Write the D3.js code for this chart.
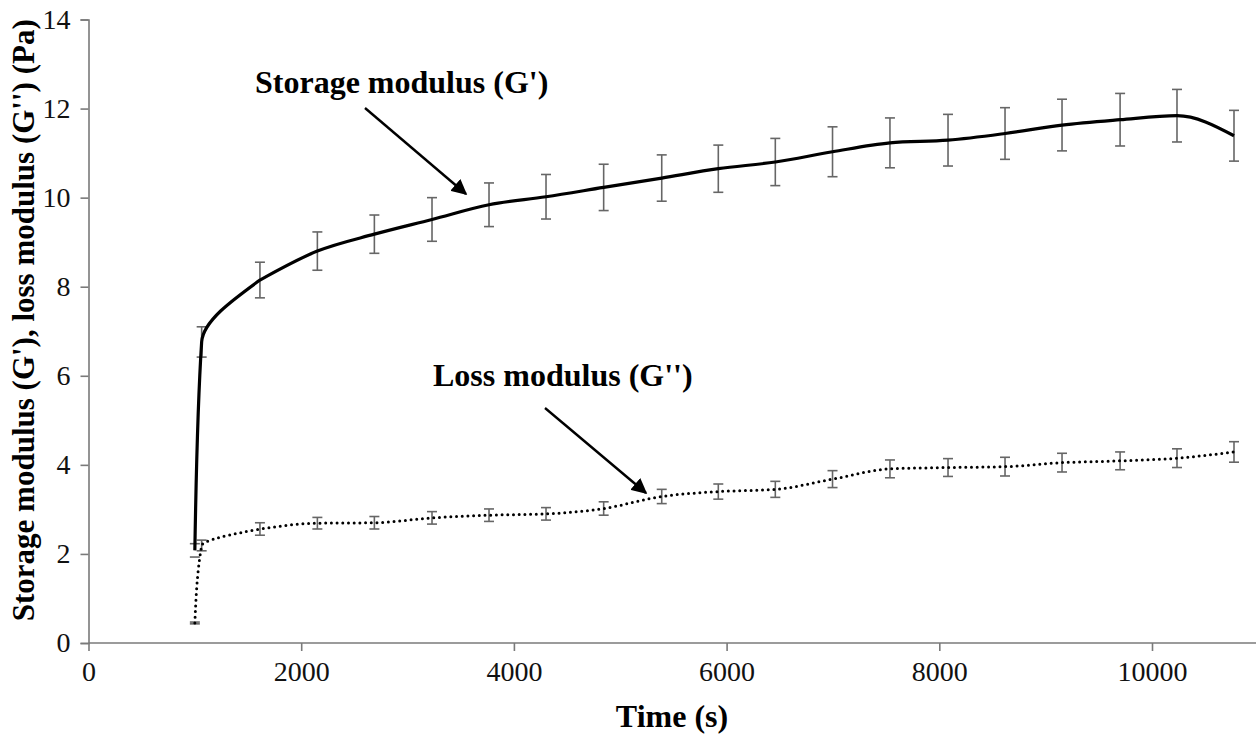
<!DOCTYPE html>
<html>
<head>
<meta charset="utf-8">
<script src="https://cdn.jsdelivr.net/npm/d3@7"></script>
<style>
  html, body { margin: 0; padding: 0; background: #fff; }
  svg { display: block; }
  text { font-family: "Liberation Serif", "Times New Roman", serif; }
</style>
</head>
<body>
<svg id="chart" width="1256" height="736"></svg>
<script>
// ---- data ----
const timeS = [1000, 1064, 1612, 2152, 2688, 3230, 3766, 4302, 4844, 5390, 5922, 6458, 6996, 7536, 8082, 8618, 9154, 9700, 10235, 10771];
const storageG1 = [2.08, 6.76, 8.15, 8.80, 9.18, 9.51, 9.84, 10.02, 10.23, 10.44, 10.65, 10.80, 11.03, 11.23, 11.29, 11.44, 11.63, 11.75, 11.84, 11.39];
const storageErr = [0.15, 0.34, 0.40, 0.43, 0.43, 0.49, 0.49, 0.50, 0.52, 0.52, 0.53, 0.53, 0.56, 0.56, 0.58, 0.58, 0.58, 0.59, 0.59, 0.57];
const lossG2 = [0.45, 2.19, 2.56, 2.69, 2.70, 2.81, 2.87, 2.90, 3.02, 3.29, 3.40, 3.45, 3.68, 3.91, 3.94, 3.96, 4.05, 4.09, 4.15, 4.29];
const lossErr = [0.02, 0.12, 0.14, 0.13, 0.14, 0.14, 0.14, 0.14, 0.15, 0.16, 0.17, 0.18, 0.19, 0.20, 0.20, 0.21, 0.21, 0.20, 0.21, 0.23];
const xTicks = [0, 2000, 4000, 6000, 8000, 10000];
const yTicks = [0, 2, 4, 6, 8, 10, 12, 14];
const xTitle = "Time (s)";
const yTitle = "Storage modulus (G'), loss modulus (G'') (Pa)";
const storageLabel = "Storage modulus (G')";
const lossLabel = "Loss modulus (G'')";

const svg = d3.select("#chart");
const x = d3.scaleLinear().domain([0, 11000]).range([88.5, 88.5 + 11000 * 0.10635]);
const y = d3.scaleLinear().domain([0, 14]).range([643, 19.5]);

const axisColor = "#7a7a7a";

// axes
const gx = svg.append("g").attr("transform", `translate(0,${y(0)})`)
  .call(d3.axisBottom(x).tickValues(xTicks).tickFormat(d3.format("d")).tickSizeOuter(0).tickSize(8).tickPadding(10));
const gy = svg.append("g").attr("transform", `translate(${x(0)},0)`)
  .call(d3.axisLeft(y).tickValues(yTicks).tickFormat(d3.format("d")).tickSizeOuter(0).tickSize(8).tickPadding(10));
[gx, gy].forEach(g => {
  g.select(".domain").attr("stroke", axisColor).attr("stroke-width", 1.6);
  g.selectAll(".tick line").attr("stroke", axisColor).attr("stroke-width", 1.6);
  g.selectAll(".tick text").attr("fill", "#111").style("font-size", "28px")
    .style("font-family", '"Liberation Serif", "Times New Roman", serif');
});
gx.select(".domain").attr("d", `M${x(0)},0H1256`);

// axis titles
svg.append("text").attr("x", 672).attr("y", 727).attr("text-anchor", "middle")
  .attr("font-weight", "bold").style("font-size", "32px").text(xTitle);
svg.append("text").attr("transform", `translate(34,${(y(0) + y(14)) / 2 - 11}) rotate(-90)`)
  .attr("text-anchor", "middle").attr("font-weight", "bold").style("font-size", "31px").text(yTitle);

const storage = timeS.map((t, i) => ({ t, v: storageG1[i], e: storageErr[i] }));
const loss = timeS.map((t, i) => ({ t, v: lossG2[i], e: lossErr[i] }));

// smoothed line: steep start treated with y-monotone interpolation, rest x-monotone
const lineStart = d3.line().x(d => x(d.t)).y(d => y(d.v)).curve(d3.curveMonotoneY);
const lineRest = d3.line().x(d => x(d.t)).y(d => y(d.v)).curve(d3.curveMonotoneX);
function smoothPath(data) {
  const a = lineStart(data.slice(0, 3));
  const b = lineRest(data.slice(2)).replace(/^M[^C]*/, "");
  return a + b;
}

// error bars
function errorBars(data, cls) {
  const g = svg.append("g").attr("class", cls).attr("stroke", "#666").attr("stroke-width", 1.6).attr("fill", "none");
  const cap = 5;
  const sel = g.selectAll("g").data(data.slice(1)).join("g");
  sel.append("line").attr("x1", d => x(d.t)).attr("x2", d => x(d.t)).attr("y1", d => y(d.v - d.e)).attr("y2", d => y(d.v + d.e));
  sel.append("line").attr("x1", d => x(d.t) - cap).attr("x2", d => x(d.t) + cap).attr("y1", d => y(d.v - d.e)).attr("y2", d => y(d.v - d.e));
  sel.append("line").attr("x1", d => x(d.t) - cap).attr("x2", d => x(d.t) + cap).attr("y1", d => y(d.v + d.e)).attr("y2", d => y(d.v + d.e));
  const f = data[0];
  g.append("line").attr("x1", x(f.t) - cap).attr("x2", x(f.t) + cap).attr("y1", y(f.v - f.e)).attr("y2", y(f.v - f.e));
  g.append("line").attr("x1", x(f.t) - cap).attr("x2", x(f.t) + cap).attr("y1", y(f.v + f.e)).attr("y2", y(f.v + f.e));
}
errorBars(storage, "err-storage");
errorBars(loss, "err-loss");

// lines
svg.append("path").attr("d", smoothPath(loss)).attr("fill", "none").attr("stroke", "#000")
  .attr("stroke-width", 3).attr("stroke-linecap", "round").attr("stroke-dasharray", "0 5.7");
svg.append("path").attr("d", smoothPath(storage)).attr("fill", "none").attr("stroke", "#000")
  .attr("stroke-width", 3.2).attr("stroke-linejoin", "round");

// annotations
svg.append("defs").append("marker").attr("id", "arrow").attr("viewBox", "0 0 10 10")
  .attr("refX", 9).attr("refY", 5).attr("markerWidth", 6.5).attr("markerHeight", 6.5)
  .attr("markerUnits", "strokeWidth").attr("orient", "auto")
  .append("path").attr("d", "M0,0L10,5L0,10z").attr("fill", "#000");

svg.append("text").attr("x", 255).attr("y", 93).attr("font-weight", "bold").style("font-size", "32px").text(storageLabel);
svg.append("line").attr("x1", 365).attr("y1", 108).attr("x2", 466).attr("y2", 194)
  .attr("stroke", "#000").attr("stroke-width", 2.4).attr("marker-end", "url(#arrow)");

svg.append("text").attr("x", 433).attr("y", 386).attr("font-weight", "bold").style("font-size", "32px").text(lossLabel);
svg.append("line").attr("x1", 545).attr("y1", 408).attr("x2", 646).attr("y2", 493)
  .attr("stroke", "#000").attr("stroke-width", 2.4).attr("marker-end", "url(#arrow)");
</script>
</body>
</html>
